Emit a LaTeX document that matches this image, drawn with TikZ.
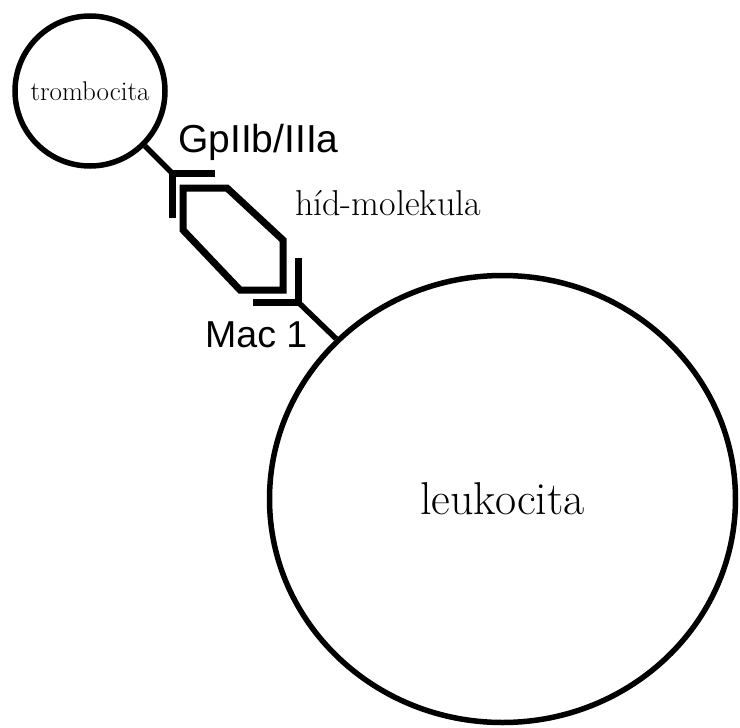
\documentclass[tikz,border=0pt]{standalone}
\usepackage{fontspec}
\newfontfamily\arialfont{Liberation Sans}
\usetikzlibrary{calc,shapes.geometric}
\tikzset{
  cell/.style={draw,line width=5.5pt,inner sep=0pt},
  bond/.style={line width=7pt},
  stalk/.style={line width=5.5pt},
  tag/.style={inner sep=0pt,anchor=base west}
}
\begin{document}
\begin{tikzpicture}[x=1pt,y=-1pt]
    \useasboundingbox (0,0) rectangle (740,728);
    \begin{scope}[shift={(0,0)}]
      \node[cell,circle,minimum size=150pt,font=\fontsize{27}{27}\selectfont] (tromb) at (90,91) {trombocita};
      \node[cell,ellipse,minimum width=466pt,minimum height=447pt,font=\fontsize{46}{46}\selectfont] (leuko) at (502.5,499) {leukocita};
      \coordinate (gp) at (172,173);
      \coordinate (mac) at (298,302);
      \coordinate (A) at (183,188);
      \coordinate (B) at (227,188);
      \coordinate (C) at (283,240);
      \coordinate (D) at (283,290);
      \coordinate (E) at (240,290);
      \coordinate (F) at (183,230);
      \draw[stalk](gp)--(tromb);
      \draw[stalk](mac)--(leuko);
      \draw[bond]($(gp)+(43,0)$)--(gp)--($(gp)+(0,45)$);
      \draw[bond]($(mac)+(-45,0)$)--(mac)--($(mac)+(0,-44)$);
      \draw[bond](A)--(B)--(C)--(D)--(E)--(F)--cycle;
      \node[tag,font=\arialfont\fontsize{39}{39}\selectfont] (gplabel) at (178,152) {GpIIb/IIIa};
      \node[tag,font=\arialfont\fontsize{37.5}{37.5}\selectfont] (maclabel) at (205,347) {Mac 1};
      \node[tag,font=\fontsize{36}{36}\selectfont] (hidlabel) at (295,215) {híd-molekula};
    \end{scope}
  \end{tikzpicture}
\end{document}
